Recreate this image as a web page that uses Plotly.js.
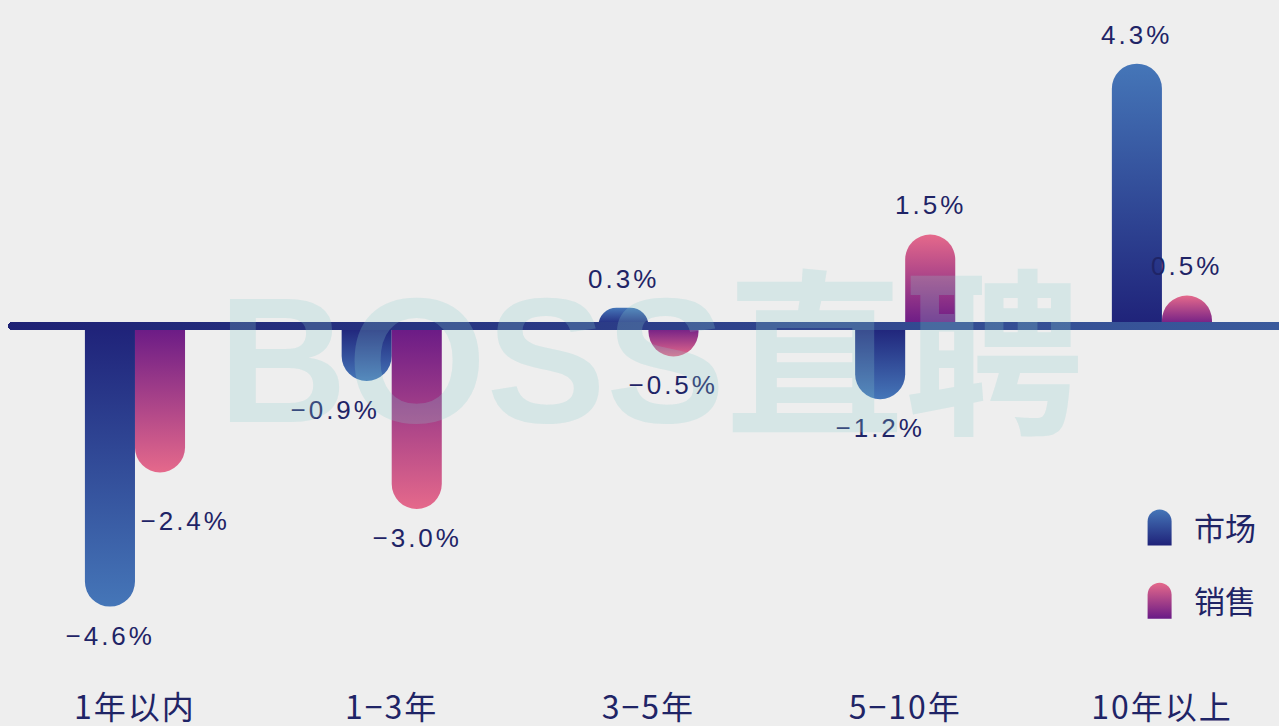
<!DOCTYPE html>
<html>
<head>
<meta charset="utf-8">
<script src="https://cdn.plot.ly/plotly-3.0.1.min.js"></script>
<style>
  html, body { margin: 0; padding: 0; background: #eeeeee; }
  #chart { width: 1279px; height: 726px; }
  .annotation-text.vlabel, .annotation .vlabel { letter-spacing: 3px; }
  .xtick text { letter-spacing: 2px; }
</style>
</head>
<body>
<div id="chart"></div>
<script>
// ---- data ----
const categories = ['1年以内', '1\u22123年', '3\u22125年', '5\u221210年', '10年以上'];
const seriesNames = ['市场', '销售'];
const marketValues = [-4.6, -0.9, 0.3, -1.2, 4.3];
const salesValues = [-2.4, -3.0, -0.5, 1.5, 0.5];

function fmt(v) {
  const s = Math.abs(v).toFixed(1) + '%';
  return v < 0 ? '\u2212' + s : s;
}

const navy = '#1f2466';
const BARGAP = 0.61;
const labelFont = { family: '"Liberation Sans", "Noto Sans CJK SC", sans-serif', size: 26, color: navy };
// label placement style (pixels): distance from bar end, plus a few sideways nudges as in the reference
const LABEL_GAP = 29;
const labelNudge = { '1-0': { dx: 25, dy: -20 }, '0-1': { dx: -32, dy: 0 } };

const traces = [
  {
    type: 'bar', name: seriesNames[0], x: categories, y: marketValues,
    marker: { color: '#2f4f9a', cornerradius: '50%' },
    legendgroup: 'a', hoverinfo: 'skip'
  },
  {
    type: 'bar', name: seriesNames[1], x: categories, y: salesValues,
    marker: { color: '#a03a86', cornerradius: '50%' },
    legendgroup: 'b', hoverinfo: 'skip'
  }
];

// value labels, placed at each bar's end through the axes
const annotations = [];
[marketValues, salesValues].forEach(function (vals, s) {
  const off = (s === 0 ? -1 : 1) * (1 - BARGAP) / 4;
  vals.forEach(function (v, i) {
    const n = labelNudge[s + '-' + i] || { dx: 0, dy: 0 };
    annotations.push({
      xref: 'x', yref: 'y', x: i + off, y: v, showarrow: false,
      xanchor: 'center', yanchor: 'middle',
      xshift: n.dx, yshift: (v >= 0 ? LABEL_GAP : -LABEL_GAP) + n.dy,
      text: fmt(v), font: labelFont
    });
  });
});
annotations.push({
  xref: 'paper', yref: 'paper', x: 0.504, y: 0.475, xanchor: 'center', yanchor: 'middle',
  text: '<b>BOSS直聘</b>', showarrow: false,
  font: { family: '"Liberation Sans", "Noto Sans CJK SC", sans-serif', size: 179, color: 'rgba(140,205,205,0.24)' }
});

const layout = {
  width: 1279, height: 726,
  paper_bgcolor: '#eeeeee', plot_bgcolor: '#eeeeee',
  margin: { l: 12, r: 0, t: 0, b: 40 },
  barmode: 'group', bargap: BARGAP, bargroupgap: 0,
  showlegend: true,
  legend: {
    x: 0.888, xanchor: 'left', y: 0.27, yanchor: 'top',
    font: { family: '"Noto Sans CJK SC", sans-serif', size: 31, color: navy },
    itemwidth: 47,
    traceorder: 'grouped', tracegroupgap: 30, bgcolor: 'rgba(0,0,0,0)'
  },
  xaxis: {
    type: 'category', range: [-0.479, 4.456], showgrid: false, zeroline: false,
    showline: false, ticks: '',
    tickfont: { family: '"Noto Sans CJK SC", sans-serif', size: 32, color: navy }
  },
  yaxis: {
    range: [-5.902, 5.344], showgrid: false, showticklabels: false, ticks: '',
    zeroline: true, zerolinewidth: 8, zerolinecolor: '#26307e', showline: false
  },
  annotations: annotations
};

Plotly.newPlot('chart', traces, layout, { displayModeBar: false, staticPlot: true }).then(function (gd) {
  const NS = 'http://www.w3.org/2000/svg';
  const svg = gd.querySelector('svg.main-svg');
  const defs = document.createElementNS(NS, 'defs');
  svg.insertBefore(defs, svg.firstChild);
  function grad(id, top, bottom, horiz) {
    const g = document.createElementNS(NS, 'linearGradient');
    g.setAttribute('id', id);
    if (horiz) {
      g.setAttribute('gradientUnits', 'userSpaceOnUse');
      g.setAttribute('x1', '0'); g.setAttribute('y1', '0');
      g.setAttribute('x2', '1279'); g.setAttribute('y2', '0');
    } else {
      g.setAttribute('x1', '0'); g.setAttribute('y1', '0');
      g.setAttribute('x2', '0'); g.setAttribute('y2', '1');
    }
    [[0, top], [1, bottom]].forEach(function (s) {
      const st = document.createElementNS(NS, 'stop');
      st.setAttribute('offset', s[0]);
      st.setAttribute('stop-color', s[1]);
      g.appendChild(st);
    });
    defs.appendChild(g);
  }
  const mLight = '#4576b8', mDark = '#1f2279';
  const sLight = '#e5698b', sDark = '#691a86';
  grad('mPos', mLight, mDark); grad('mNeg', mDark, mLight);
  grad('sPos', sLight, sDark); grad('sNeg', sDark, sLight);
  grad('zl', '#1e2174', '#3a5a9c', true);

  const valuesBy = [marketValues, salesValues];
  const ids = [['mPos', 'mNeg'], ['sPos', 'sNeg']];
  gd.querySelectorAll('.barlayer .trace').forEach(function (tr, ti) {
    tr.querySelectorAll('.point path').forEach(function (p, pi) {
      const v = valuesBy[ti][pi];
      p.style.fill = 'url(#' + ids[ti][v >= 0 ? 0 : 1] + ')';
    });
  });
  gd.querySelectorAll('.legend .traces').forEach(function (tr, ti) {
    tr.querySelectorAll('.legendpoints path').forEach(function (p) {
      p.setAttribute('d', 'M-18,18V-6A12,12 0 0 1 6,-6V18Z');
      p.style.fill = 'url(#' + ids[ti][0] + ')';
      p.style.stroke = 'none';
    });
  });
  gd.querySelectorAll('.zerolinelayer').forEach(function (layer) {
    layer.querySelectorAll('path').forEach(function (p) {
      p.style.stroke = 'url(#zl)';
      p.style.strokeLinecap = 'round';
    });
    layer.parentNode.appendChild(layer);
  });
  // letter spacing on value labels (all annotations except the watermark)
  const ann = gd.querySelectorAll('.annotation-text');
  ann.forEach(function (t, k) {
    if (k < ann.length - 1) t.style.letterSpacing = '3px';
  });
});
</script>
</body>
</html>
